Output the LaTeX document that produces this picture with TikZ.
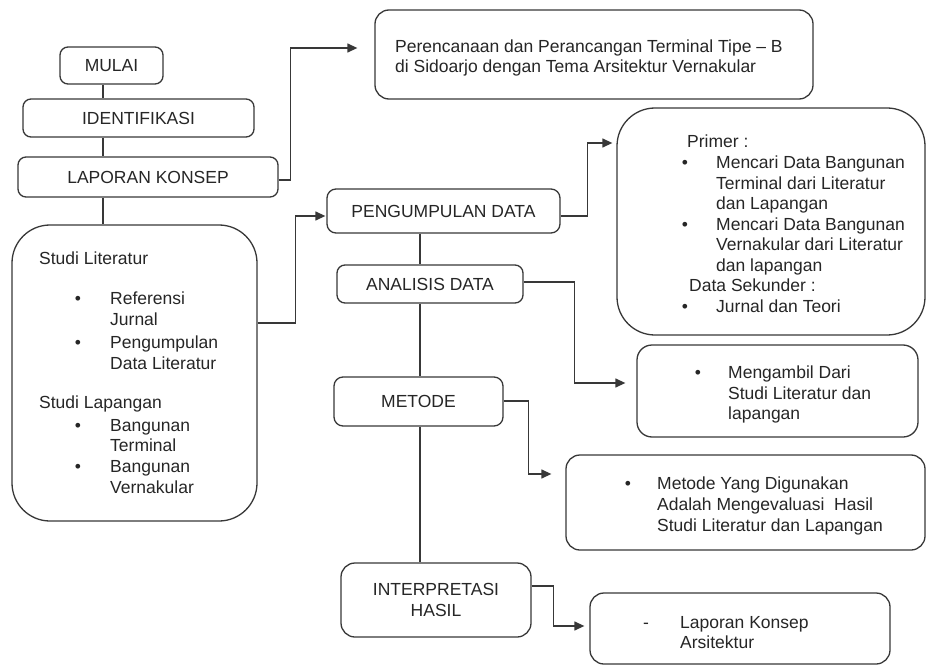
\documentclass[tikz,border=0pt]{standalone}
\usepackage{fontspec}
\setmainfont{Liberation Sans}
\usetikzlibrary{arrows.meta}
\newcommand\diafont{\fontsize{17.5bp}{20.5bp}\selectfont}
\begin{document}
\begin{tikzpicture}[x=1bp,y=-1bp,
  box/.style={draw=black!78, line width=1.3bp, rounded corners=#1, inner sep=0pt,
    text=black!85, font=\diafont, align=center},
  box/.default=8bp,
  txt/.style={anchor=base west, inner sep=0pt, font=\diafont, text=black!85},
  bul/.style={anchor=base, inner sep=0pt, font=\diafont, text=black!85},
  conn/.style={draw=black!78, line width=1.3bp},
  arr/.style={conn, -{Triangle[length=10bp,width=9bp]}}]
\fill[white] (0,0) rectangle (926,666);
\useasboundingbox (0,0) rectangle (926,666);

% left column
\node[box, minimum width=103bp, minimum height=37bp] (mulai) at (111.5,65.5) {MULAI};
\node[box, minimum width=231bp, minimum height=38bp] (ident) at (138.5,118) {IDENTIFIKASI};
\node[box, minimum width=260bp, minimum height=40bp] (lapor) at (148,177) {LAPORAN KONSEP};
\node[box=38bp, minimum width=245bp, minimum height=296bp] (studi) at (134.5,373) {};
\node[txt] (s1) at (39,264) {Studi Literatur};
\node[bul] (sb1) at (78,304) {•};
\node[txt] (s2) at (110,304) {Referensi};
\node[txt] (s3) at (110,325) {Jurnal};
\node[bul] (sb2) at (78,348) {•};
\node[txt] (s4) at (110,348) {Pengumpulan};
\node[txt] (s5) at (110,369) {Data Literatur};
\node[txt] (s6) at (39,408) {Studi Lapangan};
\node[bul] (sb3) at (78,431) {•};
\node[txt] (s7) at (110,431) {Bangunan};
\node[txt] (s8) at (110,451) {Terminal};
\node[bul] (sb4) at (78,472) {•};
\node[txt] (s9) at (110,472) {Bangunan};
\node[txt] (s10) at (110,493) {Vernakular};

% top box
\node[box=14bp, minimum width=438bp, minimum height=89bp] (top) at (594,54.5) {};
\node[txt] (t1) at (395,53) {Perencanaan dan Perancangan Terminal Tipe – B};
\node[txt] (t2) at (395,73) {di Sidoarjo dengan Tema Arsitektur Vernakular};

% middle column
\node[box=9bp, minimum width=233bp, minimum height=44bp] (peng) at (443.5,211) {PENGUMPULAN DATA};
\node[box, minimum width=186bp, minimum height=38bp] (anal) at (430,284) {ANALISIS DATA};
\node[box=9bp, minimum width=169bp, minimum height=49bp] (metode) at (418.5,401.5) {METODE};
\node[box=14bp, minimum width=190bp, minimum height=74bp] (interp) at (436,600) {INTERPRETASI\\HASIL};

% right column
\node[box=38bp, minimum width=308bp, minimum height=227bp] (primer) at (771,221.5) {};
\node[txt] (p1) at (687,148) {Primer :};
\node[bul] (pb1) at (685,168.5) {•};
\node[txt] (p2) at (716,168.5) {Mencari Data Bangunan};
\node[txt] (p3) at (716,189) {Terminal dari Literatur};
\node[txt] (p4) at (716,209.5) {dan Lapangan};
\node[bul] (pb2) at (685,230) {•};
\node[txt] (p5) at (716,230) {Mencari Data Bangunan};
\node[txt] (p6) at (716,250.5) {Vernakular dari Literatur};
\node[txt] (p7) at (716,271) {dan lapangan};
\node[txt] (p8) at (689,291.5) {Data Sekunder :};
\node[bul] (pb3) at (685,312) {•};
\node[txt] (p9) at (716,312) {Jurnal dan Teori};

\node[box=15bp, minimum width=281bp, minimum height=92bp] (ambil) at (777.5,391) {};
\node[bul] (ab1) at (698,378) {•};
\node[txt] (a1) at (728,378) {Mengambil Dari};
\node[txt] (a2) at (728,399) {Studi Literatur dan};
\node[txt] (a3) at (728,419) {lapangan};

\node[box=14bp, minimum width=359bp, minimum height=95bp] (metyang) at (745.5,502.5) {};
\node[bul] (mb1) at (628,489) {•};
\node[txt] (m1) at (657,489) {Metode Yang Digunakan};
\node[txt] (m2) at (657,510) {Adalah Mengevaluasi~ Hasil};
\node[txt] (m3) at (657,531) {Studi Literatur dan Lapangan};

\node[box=14bp, minimum width=300bp, minimum height=71bp] (lapko) at (740,628.5) {};
\node[bul] (lb1) at (646,628) {-};
\node[txt] (l1) at (680,628) {Laporan Konsep};
\node[txt] (l2) at (680,648) {Arsitektur};

% vertical chains
\coordinate (c1) at (103,0);
\coordinate (c2) at (420,0);
\draw[conn] (c1 |- mulai.south) -- (c1 |- ident.north);
\draw[conn] (c1 |- ident.south) -- (c1 |- lapor.north);
\draw[conn] (c1 |- lapor.south) -- (c1 |- studi.north);
\draw[conn] (c2 |- peng.south) -- (c2 |- anal.north);
\draw[conn] (c2 |- anal.south) -- (c2 |- metode.north);
\draw[conn] (c2 |- metode.south) -- (c2 |- interp.north);

% arrows
\draw[arr, shorten >=17bp] ([yshift=-3bp]lapor.east) -- ++(12,0) |- ([yshift=6.5bp]top.west);
\draw[arr, shorten >=1bp] ([yshift=50bp]studi.east) -- ++(38,0) |- ([yshift=-5bp]peng.west);
\draw[arr, shorten >=4bp] ([yshift=-5bp]peng.east) -- ++(27,0) |- ([yshift=78.5bp]primer.west);
\draw[arr, shorten >=11bp] ([yshift=2bp]anal.east) -- ++(51,0) |- ([yshift=8bp]ambil.west);
\draw[arr, shorten >=14bp] ([yshift=0.5bp]metode.east) -- ++(25,0) |- ([yshift=28.5bp]metyang.west);
\draw[arr, shorten >=5bp] ([yshift=14bp]interp.east) -- ++(22,0) |- ([yshift=2.5bp]lapko.west);
\end{tikzpicture}
\end{document}
